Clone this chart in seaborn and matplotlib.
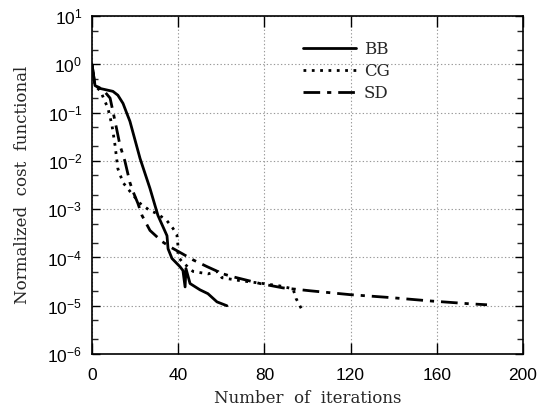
import matplotlib
matplotlib.use("Agg")
import matplotlib.pyplot as plt
import matplotlib.ticker as mticker
import numpy as np
import pandas as pd
import seaborn as sns

# values (iteration, log10 of normalized cost)
bb_iter = [0, 1.4, 3.7, 9.7, 12, 14.4, 16.2, 17.6, 22.3, 26.9, 30.6, 32.9, 34.8, 35.3,
           37.1, 40.8, 42.2, 43.2, 43.6, 45.5, 50.1, 53.8, 58, 62.6]
bb_log = [0, -0.44, -0.50, -0.56, -0.64, -0.81, -1.02, -1.18, -1.95, -2.57, -3.13, -3.36,
          -3.55, -3.82, -4.02, -4.19, -4.27, -4.61, -4.23, -4.54, -4.67, -4.75, -4.92, -5.0]

cg_iter = [0, 1.4, 4, 7.4, 9.3, 10.7, 12, 14.4, 17.6, 22.3, 26.9, 30.2, 34.8, 37.6, 39.4,
           39.9, 39.9, 41.8, 46.9, 53.8, 58.5, 60.3, 68.7, 79.4, 87.2, 93.3, 94.7, 97.4]
cg_log = [0, -0.44, -0.56, -0.91, -1.27, -1.68, -2.16, -2.45, -2.63, -2.88, -3.03, -3.09,
          -3.24, -3.40, -3.53, -3.76, -3.98, -4.09, -4.29, -4.34, -4.29, -4.42, -4.48, -4.54,
          -4.59, -4.65, -4.85, -5.08]

sd_iter = [0, 1.4, 5, 8.4, 10.7, 13, 15.3, 17.6, 19, 21.3, 23.2, 26.9, 32.5, 36.2, 41.8,
           46.9, 53.4, 60.8, 65.4, 78, 88.6, 101.2, 119.7, 138.3, 156.8, 175.4, 183.3]
sd_log = [0, -0.44, -0.52, -0.70, -1.18, -1.68, -2.01, -2.45, -2.63, -2.88, -3.13, -3.44,
          -3.67, -3.78, -3.92, -4.05, -4.19, -4.34, -4.40, -4.54, -4.63, -4.69, -4.77, -4.83,
          -4.90, -4.96, -4.98]

methods = ["BB", "CG", "SD"]
x_ticks = [0, 40, 80, 120, 160, 200]

sns.set_style("ticks")
plt.rcParams['font.family'] = ['Liberation Sans', 'DejaVu Sans']
plt.rcParams['mathtext.fontset'] = 'custom'
plt.rcParams['mathtext.rm'] = 'Liberation Sans'
plt.rcParams['mathtext.it'] = 'Liberation Sans:italic'

fig = plt.figure(figsize=(5.45, 4.17), dpi=100)
ax = fig.add_axes([0.1688, 0.151, 0.7908, 0.8106])

styles = {
    "BB": dict(linestyle="-"),
    "CG": dict(linestyle=(0, (1, 2))),
    "SD": dict(linestyle=(0, (6, 2.5, 1.5, 2.5))),
}
series = {"BB": (bb_iter, bb_log), "CG": (cg_iter, cg_log), "SD": (sd_iter, sd_log)}

for name in methods:
    it, lg = series[name]
    df = pd.DataFrame({"iter": it, "cost": 10.0 ** np.array(lg)})
    sns.lineplot(data=df, x="iter", y="cost", ax=ax, color="black", linewidth=2,
                 label=name, sort=False, estimator=None, **styles[name])

ax.set_yscale("log")
ax.set_xlim(0, 200)
ax.set_ylim(1e-6, 10)
ax.set_xticks(x_ticks)
ax.yaxis.set_major_locator(mticker.LogLocator(base=10, numticks=20))
ax.yaxis.set_minor_locator(mticker.LogLocator(base=10, subs=(2, 5), numticks=20))
ax.yaxis.set_minor_formatter(mticker.NullFormatter())
ax.tick_params(axis="both", which="major", direction="in", top=True, right=True,
               length=6, width=1, labelsize=12.5, pad=7, colors="black")
ax.tick_params(axis="x", which="major", length=8, pad=10)
ax.tick_params(axis="y", which="minor", direction="in", right=True, length=4, width=1)
ax.grid(True, which="major", linestyle=(0, (1.2, 2)), color="#999999", linewidth=0.8)
for sp in ax.spines.values():
    sp.set_linewidth(1.2)
    sp.set_color("black")

serif = ['DejaVu Serif']
ax.set_xlabel("Number  of  iterations", family=serif, fontsize=12, labelpad=5)
ax.set_ylabel("Normalized  cost  functional", family=serif, fontsize=12, labelpad=12)

leg = ax.legend(loc="upper left", bbox_to_anchor=(0.455, 0.97), frameon=False,
                prop={"family": serif, "size": 12}, handlelength=3.2,
                handletextpad=0.45, labelspacing=0.3)

fig.savefig("out.png", dpi=100)
